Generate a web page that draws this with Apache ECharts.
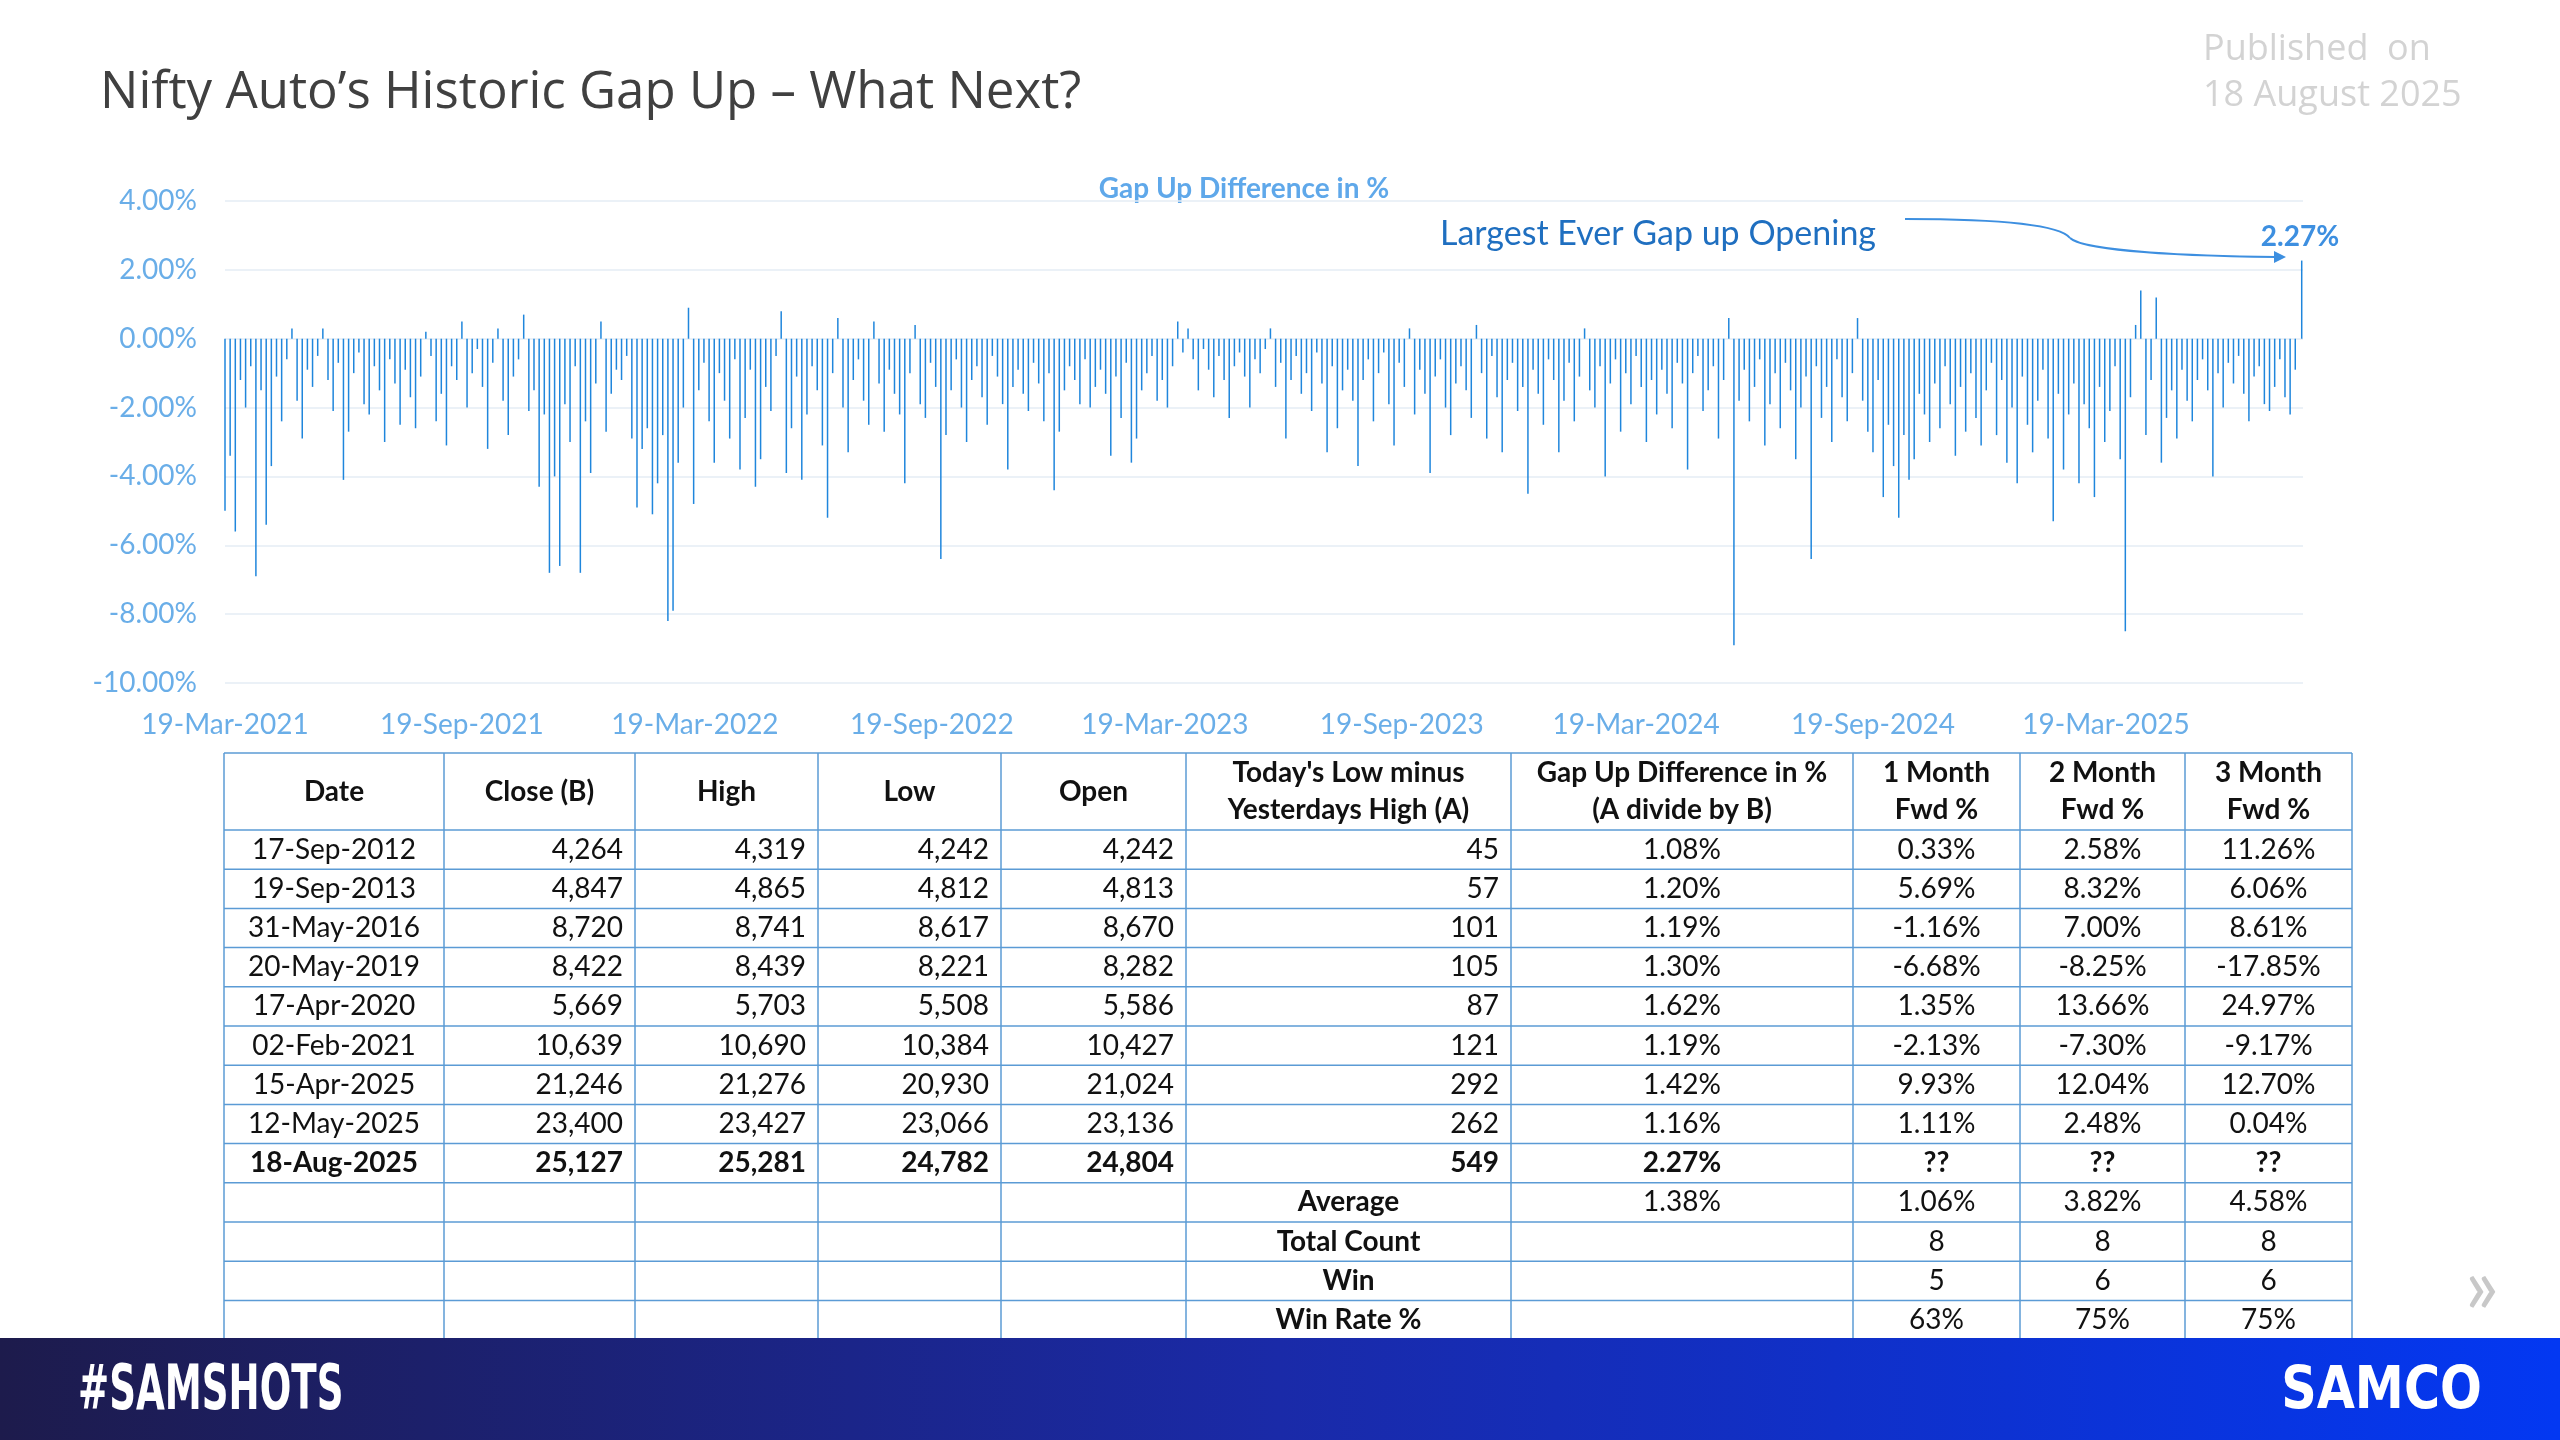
<!DOCTYPE html>
<html>
<head>
<meta charset="utf-8">
<script src="https://cdn.jsdelivr.net/npm/echarts@6/dist/echarts.min.js"></script>
<style>html,body{margin:0;padding:0;background:#fff}#main{width:2560px;height:1440px}</style>
</head>
<body>
<div id="main"></div>
<script>
// gap-up difference (%), one bar every 4 calendar days from 19-Mar-2021, last bar = 18-Aug-2025
var gapValues = [
  -5.0,-3.4,-5.6,-1.2,-2.0,-0.8,-6.9,-1.5,-5.4,-3.7,-1.1,-2.4,-0.6,0.3,-1.8,-2.9,-0.9,-1.4,-0.5,0.3,
  -1.2,-2.1,-0.7,-4.1,-2.7,-1.0,-0.4,-1.9,-2.2,-0.8,-1.5,-3.0,-0.6,-1.3,-2.5,-0.9,-1.7,-2.6,-1.1,0.2,
  -0.5,-2.4,-1.6,-3.1,-0.8,-1.2,0.5,-2.0,-1.0,-0.3,-1.4,-3.2,-0.7,0.3,-1.8,-2.8,-1.1,-0.6,0.7,-2.1,
  -1.5,-4.3,-2.2,-6.8,-4.0,-6.6,-1.9,-3.0,-0.8,-6.8,-2.4,-3.9,-1.3,0.5,-2.7,-1.6,-0.9,-1.2,-0.5,-2.9,
  -4.9,-3.2,-2.6,-5.1,-4.2,-2.8,-8.2,-7.9,-3.6,-2.0,0.9,-4.8,-1.5,-0.7,-2.4,-3.6,-1.0,-1.8,-2.9,-0.6,
  -3.8,-2.3,-0.9,-4.3,-3.5,-1.4,-2.1,-0.5,0.8,-3.9,-2.6,-1.1,-4.1,-2.2,-0.8,-1.5,-3.1,-5.2,-1.0,0.6,
  -2.0,-3.3,-1.2,-0.6,-1.8,-2.5,0.5,-1.3,-2.7,-0.9,-1.6,-2.2,-4.2,-1.0,0.4,-1.9,-2.3,-0.7,-1.4,-6.4,
  -2.8,-1.5,-0.6,-2.0,-3.0,-1.2,-0.8,-1.7,-2.5,-0.5,-1.1,-1.9,-3.8,-1.4,-0.9,-1.6,-2.1,-0.7,-1.3,-2.4,
  -1.0,-4.4,-2.7,-1.5,-0.8,-1.2,-1.9,-0.6,-2.0,-1.4,-0.9,-1.6,-3.4,-1.1,-2.3,-0.7,-3.6,-2.9,-1.5,-1.0,
  -0.5,-1.8,-1.2,-2.0,-0.8,0.5,-0.4,0.3,-0.6,-1.5,-0.3,-0.9,-1.7,-0.5,-1.2,-2.3,-0.8,-0.4,-1.1,-2.0,
  -0.6,-1.0,-0.3,0.3,-1.4,-0.7,-2.9,-1.2,-0.5,-1.6,-1.0,-2.1,-0.4,-1.3,-3.3,-0.8,-2.6,-1.5,-0.9,-1.8,
  -3.7,-1.2,-0.6,-2.4,-1.0,-0.4,-1.9,-3.1,-0.7,-1.4,0.3,-2.2,-0.9,-1.6,-3.9,-1.1,-0.6,-2.0,-2.8,-1.3,
  -0.8,-1.5,-2.3,0.4,-1.0,-2.9,-0.5,-1.7,-3.3,-1.2,-0.7,-2.1,-1.4,-4.5,-0.9,-1.6,-2.5,-0.6,-1.2,-3.3,
  -1.8,-0.7,-2.4,-1.1,0.3,-1.5,-2.0,-0.8,-4.0,-1.3,-0.6,-2.7,-1.0,-1.9,-0.5,-1.4,-3.0,-1.2,-2.2,-0.9,
  -1.6,-2.6,-0.7,-1.3,-3.8,-1.0,-0.5,-2.1,-1.5,-0.8,-2.9,-1.2,0.6,-8.9,-1.8,-0.9,-2.4,-1.4,-0.6,-3.1,
  -1.9,-1.0,-2.6,-0.7,-1.5,-3.5,-2.0,-1.1,-6.4,-0.8,-2.3,-1.4,-3.0,-0.6,-1.7,-2.4,-1.0,0.6,-1.8,-2.7,
  -3.3,-1.2,-4.6,-2.5,-3.7,-5.2,-2.8,-4.1,-3.5,-1.6,-2.2,-3.0,-1.3,-2.6,-0.8,-1.9,-3.4,-1.4,-2.7,-1.0,
  -2.3,-3.1,-1.5,-0.7,-2.8,-1.2,-3.6,-2.0,-4.2,-1.1,-2.5,-3.3,-1.8,-0.9,-2.9,-5.3,-1.6,-3.8,-2.2,-1.3,
  -4.2,-1.9,-2.6,-4.6,-1.4,-3.0,-2.1,-0.8,-3.5,-8.5,-1.7,0.4,1.4,-2.8,-1.2,1.2,-3.6,-2.3,-1.5,-2.9,
  -0.9,-1.8,-2.4,-1.2,-0.6,-1.5,-4.0,-1.0,-2.0,-0.7,-1.3,-0.5,-1.6,-2.4,-1.1,-0.8,-1.9,-2.1,-1.4,-0.6,
  -1.7,-2.2,-0.9
];
var lastGap = ['2025-08-18', 2.27];
var xTickDates = ['2021-03-19','2021-09-19','2022-03-19','2022-09-19','2023-03-19','2023-09-19','2024-03-19','2024-09-19','2025-03-19'];

// table
var tableHeader = ['Date','Close (B)','High','Low','Open',"Today's Low minus\nYesterdays High (A)",'Gap Up Difference in %\n(A divide by B)','1 Month\nFwd %','2 Month\nFwd %','3 Month\nFwd %'];
var tableRows = [
  ['17-Sep-2012','4,264','4,319','4,242','4,242','45','1.08%','0.33%','2.58%','11.26%'],
  ['19-Sep-2013','4,847','4,865','4,812','4,813','57','1.20%','5.69%','8.32%','6.06%'],
  ['31-May-2016','8,720','8,741','8,617','8,670','101','1.19%','-1.16%','7.00%','8.61%'],
  ['20-May-2019','8,422','8,439','8,221','8,282','105','1.30%','-6.68%','-8.25%','-17.85%'],
  ['17-Apr-2020','5,669','5,703','5,508','5,586','87','1.62%','1.35%','13.66%','24.97%'],
  ['02-Feb-2021','10,639','10,690','10,384','10,427','121','1.19%','-2.13%','-7.30%','-9.17%'],
  ['15-Apr-2025','21,246','21,276','20,930','21,024','292','1.42%','9.93%','12.04%','12.70%'],
  ['12-May-2025','23,400','23,427','23,066','23,136','262','1.16%','1.11%','2.48%','0.04%'],
  ['18-Aug-2025','25,127','25,281','24,782','24,804','549','2.27%','??','??','??'],
  ['','','','','','Average','1.38%','1.06%','3.82%','4.58%'],
  ['','','','','','Total Count','','8','8','8'],
  ['','','','','','Win','','5','6','6'],
  ['','','','','','Win Rate %','','63%','75%','75%']
];
var colEdges = [224, 444, 635, 818, 1001, 1186, 1511, 1853, 2020, 2185, 2352];
var colAlign = ['center','right','right','right','right','right','center','center','center','center'];

var DAY = 86400000;
var startT = Date.UTC(2021, 2, 19);
var barData = gapValues.map(function (v, i) { return [startT + i * 4 * DAY, v]; });
barData.push([Date.parse(lastGap[0]), lastGap[1]]);

function fmtDate(t) {
    var d = new Date(t);
    var m = ['Jan','Feb','Mar','Apr','May','Jun','Jul','Aug','Sep','Oct','Nov','Dec'];
    return d.getUTCDate() + '-' + m[d.getUTCMonth()] + '-' + d.getUTCFullYear();
}

var FONT = 'Lato, "Open Sans", sans-serif';
var graphics = [];

// title and stamp
graphics.push({type:'text', x:100, y:93, style:{text:'Nifty Auto\u2019s Historic Gap Up \u2013 What Next?', fontSize:51, fontFamily:'"Open Sans", sans-serif', fill:'#404040', verticalAlign:'middle'}});
graphics.push({type:'text', x:2203, y:73, style:{text:'Published  on\n18 August 2025', fontSize:36, lineHeight:46, fontFamily:'"Open Sans", sans-serif', fill:'#d3d3d3', verticalAlign:'middle'}});
graphics.push({type:'text', x:1244, y:189, style:{text:'Gap Up Difference in %', fontSize:28, fontWeight:'bold', fontFamily:FONT, fill:'#5fa8ea', align:'center', verticalAlign:'middle'}});
graphics.push({type:'text', x:1440, y:234, style:{text:'Largest Ever Gap up Opening', fontSize:34, fontFamily:FONT, fill:'#1f6fc0', verticalAlign:'middle'}});
graphics.push({type:'text', x:2300, y:237, style:{text:'2.27%', fontSize:28, fontWeight:'bold', fontFamily:FONT, fill:'#3d8fe0', align:'center', verticalAlign:'middle'}});
graphics.push({type:'bezierCurve', shape:{x1:1905, y1:219, cpx1:2000, cpy1:219, cpx2:2060, cpy2:225, x2:2070, y2:238}, style:{fill:null, stroke:'#3d8fe0', lineWidth:2}});
graphics.push({type:'bezierCurve', shape:{x1:2070, y1:238, cpx1:2085, cpy1:252, cpx2:2200, cpy2:256, x2:2276, y2:257}, style:{fill:null, stroke:'#3d8fe0', lineWidth:2}});
graphics.push({type:'polygon', shape:{points:[[2286,257],[2274,251],[2274,263]]}, style:{fill:'#3d8fe0'}});

// table
var headTop = 753, headH = 77, rowH = 39.2;
var tableBottom = headTop + headH + rowH * tableRows.length;
for (var c = 0; c < tableHeader.length; c++) {
    graphics.push({type:'text', x:(colEdges[c] + colEdges[c+1]) / 2, y:headTop + headH / 2,
        style:{text:tableHeader[c], fontSize:28, lineHeight:37, fontWeight:'bold', fontFamily:FONT, fill:'#111', align:'center', verticalAlign:'middle'}});
}
for (var r = 0; r < tableRows.length; r++) {
    var yMid = headTop + headH + rowH * r + rowH / 2;
    var bold = r === 8;
    for (var c2 = 0; c2 < tableRows[r].length; c2++) {
        var txt = tableRows[r][c2];
        if (!txt) continue;
        var al = colAlign[c2];
        var isLabel = r > 8 && c2 === 5;
        if (isLabel) al = 'center';
        var x = al === 'center' ? (colEdges[c2] + colEdges[c2+1]) / 2 : colEdges[c2+1] - 12;
        graphics.push({type:'text', x:x, y:yMid,
            style:{text:txt, fontSize:28, fontWeight:(bold || isLabel) ? 'bold' : 'normal', fontFamily:FONT, fill:'#111', align:al, verticalAlign:'middle'}});
    }
}
for (var k = 0; k <= tableRows.length; k++) {
    var yy = headTop + headH + rowH * k;
    graphics.push({type:'line', shape:{x1:colEdges[0], y1:yy, x2:colEdges[colEdges.length-1], y2:yy}, style:{stroke:'#5b9bd5', lineWidth:1.5}});
}
graphics.push({type:'line', shape:{x1:colEdges[0], y1:headTop, x2:colEdges[colEdges.length-1], y2:headTop}, style:{stroke:'#5b9bd5', lineWidth:1.5}});
for (var e = 0; e < colEdges.length; e++) {
    graphics.push({type:'line', shape:{x1:colEdges[e], y1:headTop, x2:colEdges[e], y2:tableBottom}, style:{stroke:'#5b9bd5', lineWidth:1.5}});
}
graphics.push({type:'text', x:2482, y:1287, style:{text:'\u00bb', fontSize:80, fontFamily:FONT, fill:'#c8c8c8', align:'center', verticalAlign:'middle'}});

// footer
graphics.push({type:'rect', shape:{x:0, y:1338, width:2560, height:102},
    style:{fill:new echarts.graphic.LinearGradient(0,0,1,0,[{offset:0,color:'#1d1b4c'},{offset:0.5,color:'#1a2aa8'},{offset:1,color:'#0338f2'}])}});
graphics.push({type:'text', x:78, y:1393, scaleX:0.6, originX:0, style:{text:'#SAMSHOTS', fontSize:62, fontWeight:'bold', fontFamily:'"DejaVu Sans", sans-serif', fill:'#fff', verticalAlign:'middle'}});
graphics.push({type:'text', x:2482, y:1393, scaleX:0.85, originX:0, style:{text:'SAMCO', fontSize:58, fontWeight:'bold', fontFamily:'"DejaVu Sans", sans-serif', fill:'#fff', align:'right', verticalAlign:'middle'}});

var dom = document.getElementById('main');
var myChart = echarts.init(dom);
var option = {
    animation: false,
    grid: {left: 225, right: 257, top: 201, bottom: 757},
    xAxis: {
        type: 'value',
        min: startT,
        max: Date.UTC(2025, 7, 19),
        axisLine: {show: false},
        axisTick: {show: false},
        splitLine: {show: false},
        axisLabel: {
            customValues: xTickDates.map(function (d) { return Date.parse(d); }),
            formatter: function (v) { return fmtDate(v); },
            color: '#6aaee8', fontSize: 28, fontFamily: FONT, margin: 28, hideOverlap: false
        }
    },
    yAxis: {
        type: 'value',
        min: -10, max: 4, interval: 2,
        axisLine: {show: false},
        axisTick: {show: false},
        splitLine: {lineStyle: {color: '#e4ecf4', width: 1.5}},
        axisLabel: {formatter: function (v) { return v.toFixed(2) + '%'; }, color: '#6aaee8', fontSize: 28, fontFamily: FONT, margin: 28}
    },
    series: [{
        type: 'bar',
        data: barData,
        barWidth: 1.5,
        itemStyle: {color: '#1f86dc'}
    }],
    graphic: graphics
};
myChart.setOption(option, true);
</script>
</body>
</html>
